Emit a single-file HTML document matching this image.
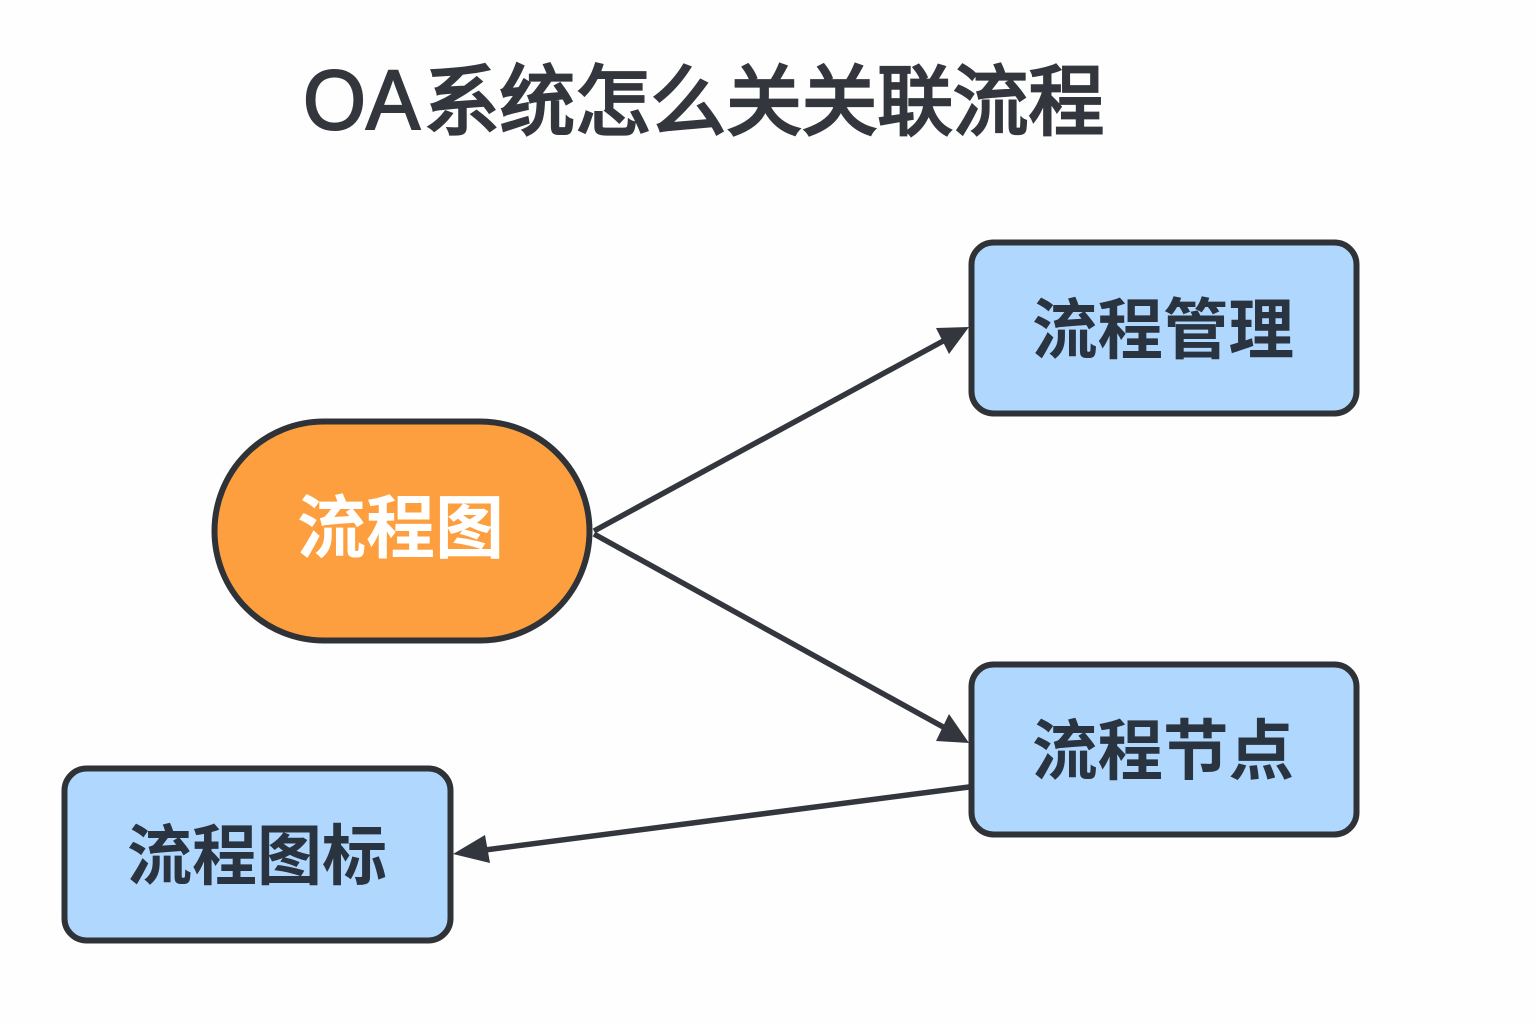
<!DOCTYPE html>
<html lang="zh">
<head>
<meta charset="utf-8">
<title>OA系统怎么关关联流程</title>
<style>
html,body{margin:0;padding:0;background:#fefefe;width:1536px;height:1024px;overflow:hidden}
svg{display:block}
text{font-family:"Liberation Sans","Noto Sans CJK SC",sans-serif}
</style>
</head>
<body>
<svg width="1536" height="1024" viewBox="0 0 1536 1024" xmlns="http://www.w3.org/2000/svg">
<rect width="1536" height="1024" fill="#fefefe"/>
<text x="303" y="129" font-size="84" fill="#33373d" stroke="#33373d" stroke-width="2" textLength="117" lengthAdjust="spacingAndGlyphs">OA</text>
<text x="424" y="129" font-size="77" fill="#33373d" stroke="#33373d" stroke-width="2.800" textLength="680" lengthAdjust="spacingAndGlyphs">系统怎么关关联流程</text>

<g stroke="#33373d" stroke-width="5.500" fill="none">
<line x1="594" y1="531" x2="945" y2="340"/>
<line x1="594" y1="534" x2="945" y2="728"/>
<line x1="969" y1="787" x2="485" y2="850"/>
</g>
<g fill="#33373d">
<polygon points="969,327 936,328 949,354"/>
<polygon points="969,743 949,714 936,741"/>
<polygon points="453,854 485,835 490,863"/>
</g>

<rect x="214.500" y="421.500" width="375" height="219" rx="109.500" ry="109.500" fill="#fd9f3f" stroke="#2f3338" stroke-width="6"/>
<g fill="#b0d8fe" stroke="#2f3338" stroke-width="6">
<rect x="971.500" y="242.500" width="385" height="171" rx="22"/>
<rect x="971.500" y="664.500" width="385" height="170" rx="22"/>
<rect x="64.500" y="768.500" width="386" height="172" rx="22"/>
</g>

<text x="297" y="552" font-size="69" font-weight="700" fill="#ffffff" textLength="207" lengthAdjust="spacingAndGlyphs">流程图</text>
<g font-size="66" font-weight="700" fill="#2a3340">
<text x="1032" y="353" textLength="262" lengthAdjust="spacingAndGlyphs">流程管理</text>
<text x="1032" y="774" textLength="262" lengthAdjust="spacingAndGlyphs">流程节点</text>
<text x="127" y="879" textLength="260" lengthAdjust="spacingAndGlyphs">流程图标</text>
</g>
</svg>
</body>
</html>
